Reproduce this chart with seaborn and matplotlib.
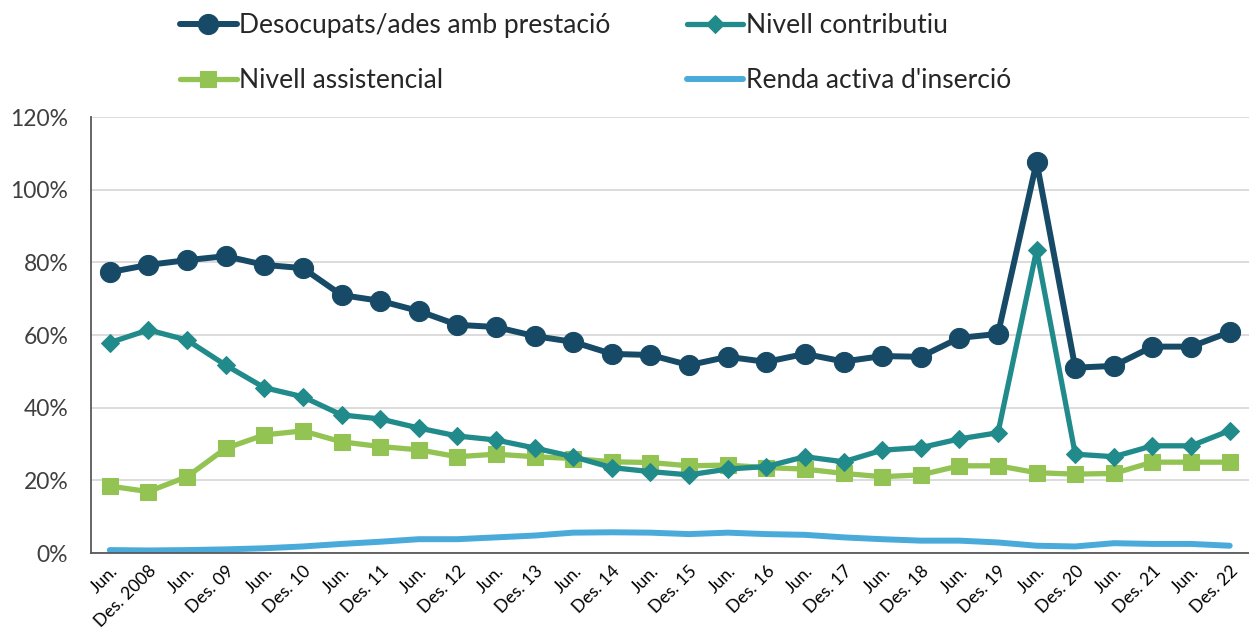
import matplotlib
matplotlib.use("Agg")
import matplotlib.pyplot as plt
import seaborn as sns
import numpy as np
import pandas as pd

# ---- data ----
periods = ["Jun.", "Des. 2008", "Jun.", "Des. 09", "Jun.", "Des. 10", "Jun.", "Des. 11",
           "Jun.", "Des. 12", "Jun.", "Des. 13", "Jun.", "Des. 14", "Jun.", "Des. 15",
           "Jun.", "Des. 16", "Jun.", "Des. 17", "Jun.", "Des. 18", "Jun.", "Des. 19",
           "Jun.", "Des. 20", "Jun.", "Des. 21", "Jun.", "Des. 22"]

desocupats = [77.3, 79.3, 80.6, 81.7, 79.3, 78.4, 71.0, 69.4, 66.6, 62.8,
              62.2, 59.7, 58.1, 54.8, 54.5, 51.7, 54.0, 52.6, 54.8, 52.7,
              54.2, 54.0, 59.2, 60.3, 107.6, 51.0, 51.5, 56.8, 56.8, 60.8]
contributiu = [57.9, 61.4, 58.6, 51.7, 45.5, 43.0, 38.0, 36.9, 34.4, 32.2,
               31.1, 28.9, 26.5, 23.5, 22.4, 21.5, 23.1, 23.8, 26.5, 25.1,
               28.3, 29.0, 31.4, 33.1, 83.4, 27.2, 26.5, 29.5, 29.5, 33.7]
assistencial = [18.4, 16.9, 21.0, 28.8, 32.5, 33.6, 30.6, 29.3, 28.4, 26.5,
                27.2, 26.5, 26.0, 25.1, 24.9, 24.0, 24.2, 23.5, 23.1, 21.9,
                21.0, 21.5, 24.0, 24.0, 22.1, 21.7, 21.9, 25.0, 25.0, 25.0]
renda_activa = [0.8, 0.7, 0.8, 1.0, 1.3, 1.8, 2.5, 3.1, 3.8, 3.8,
                4.3, 4.8, 5.6, 5.7, 5.6, 5.2, 5.6, 5.2, 5.0, 4.3,
                3.8, 3.4, 3.4, 2.9, 2.0, 1.8, 2.7, 2.5, 2.5, 2.0]

series_names = ["Desocupats/ades amb prestació", "Nivell contributiu",
                "Nivell assistencial", "Renda activa d'inserció"]

# ---- style ----
sns.set_style("white")
plt.rcParams['font.family'] = ['Lato', 'DejaVu Sans']

fig = plt.figure(figsize=(12.49, 6.32), dpi=100)
W, H = 1249, 632
ax = fig.add_axes([90.5 / W, (H - 553) / H, (W - 90.5) / W, (553 - 117) / H])

x = np.arange(len(periods))
df = pd.DataFrame({"x": x,
                   series_names[0]: np.array(desocupats) / 100,
                   series_names[1]: np.array(contributiu) / 100,
                   series_names[2]: np.array(assistencial) / 100,
                   series_names[3]: np.array(renda_activa) / 100})

styles = {
    series_names[0]: dict(color="#164A66", marker="o", markersize=14.5, linewidth=4.3),
    series_names[1]: dict(color="#218A8B", marker="D", markersize=9.5, linewidth=3.8),
    series_names[2]: dict(color="#93C353", marker="s", markersize=11, linewidth=3.8),
    series_names[3]: dict(color="#4AABDA", marker=None, markersize=0, linewidth=4.3),
}
draw_order = [series_names[3], series_names[2], series_names[1], series_names[0]]
for name in draw_order:
    st = styles[name]
    kw = dict(color=st["color"], linewidth=st["linewidth"], label=name)
    if st["marker"]:
        kw.update(marker=st["marker"], markersize=st["markersize"],
                  markeredgecolor=st["color"], markerfacecolor=st["color"])
    sns.lineplot(data=df, x="x", y=name, ax=ax, **kw)

ax.set_xlim(-0.5, len(periods) - 0.5)
ax.set_ylim(0, 1.2)
ax.set_yticks(np.arange(0, 1.21, 0.2))
ax.set_yticklabels([f"{int(round(v*100))}%" for v in np.arange(0, 1.21, 0.2)],
                   fontsize=16.5, color="#404040")
ax.tick_params(axis='y', length=0, pad=16)
ax.yaxis.grid(True, color="#D9D9D9", linewidth=1.3)
ax.set_axisbelow(True)

# category boundaries as tick marks, labels at centers
ax.set_xticks(np.arange(-0.5, len(periods), 1.0))
ax.set_xticklabels([])
ax.tick_params(axis='x', which='major', length=6, width=1.2, color="#595959", direction='out')
ax.set_xticks(x, minor=True)
ax.set_xticklabels(periods, minor=True, rotation=45, ha='right', va='top',
                   rotation_mode='anchor', fontsize=12.6, color="#000000")
ax.tick_params(axis='x', which='minor', length=0, pad=7)

ax.set_xlabel("")
ax.set_ylabel("")
for s in ["top", "right"]:
    ax.spines[s].set_visible(False)
for s in ["left", "bottom"]:
    ax.spines[s].set_color("#595959")
    ax.spines[s].set_linewidth(1.3)

handles, labels = ax.get_legend_handles_labels()
hmap = dict(zip(labels, handles))
order = [series_names[0], series_names[2], series_names[1], series_names[3]]
if ax.get_legend() is not None:
    ax.get_legend().remove()
fig.legend([hmap[n] for n in order], order, loc='upper left',
           bbox_to_anchor=(180 / W, 1 - 13 / H), ncol=2, frameon=False,
           fontsize=19, handlelength=2.15, handletextpad=0.08, columnspacing=2.9,
           labelspacing=1.13, borderpad=0, borderaxespad=0, labelcolor="#262626")

fig.savefig("out.png", dpi=100)
